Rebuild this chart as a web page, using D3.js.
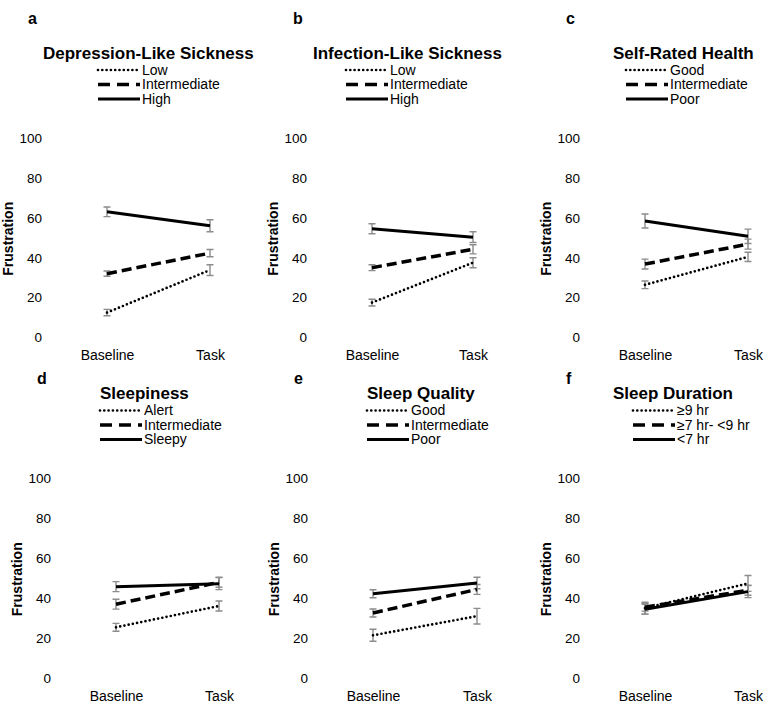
<!DOCTYPE html>
<html>
<head>
<meta charset="utf-8">
<script src="https://cdn.jsdelivr.net/npm/d3@7"></script>
<style>
    body { margin: 0; background: #ffffff; }
    svg { display: block; font-family: "Liberation Sans", Arial, sans-serif; }
</style>
</head>
<body>
<svg id="chart" width="766" height="705"></svg>
<script>
// conditions on the x axis, ticks on the y axis
const conditions = ["Baseline", "Task"];
const yTicks = [0, 20, 40, 60, 80, 100];

const panelLetters = ["a", "b", "c", "d", "e", "f"];
const panelTitles = [
    "Depression-Like Sickness",
    "Infection-Like Sickness",
    "Self-Rated Health",
    "Sleepiness",
    "Sleep Quality",
    "Sleep Duration"
];

// legend labels, order: dotted, dashed, solid
const levelLabels = [
    ["Low", "Intermediate", "High"],
    ["Low", "Intermediate", "High"],
    ["Good", "Intermediate", "Poor"],
    ["Alert", "Intermediate", "Sleepy"],
    ["Good", "Intermediate", "Poor"],
    ["\u22659 hr", "\u22657 hr- <9 hr", "<7 hr"]
];

// mean frustration [baseline, task] per level
const meanA = [[12.5, 33.8], [32, 42.3], [63, 56]];
const meanB = [[17.5, 37.5], [35, 44.2], [54.5, 50.3]];
const meanC = [[26.4, 40.4], [36.8, 46.8], [58.4, 50.7]];
const meanD = [[25.4, 36.1], [37, 48], [45.8, 47.3]];
const meanE = [[21.4, 31], [32.6, 44.4], [42.2, 47.6]];
const meanF = [[35, 47.4], [35.5, 44], [34.5, 43.3]];

// standard error [baseline, task] per level
const errA = [[1.6, 2.7], [1.3, 1.8], [2.4, 3]];
const errB = [[1.7, 2.5], [1.5, 2.3], [2.5, 2.7]];
const errC = [[1.9, 2.3], [2.5, 2.5], [3.5, 3.6]];
const errD = [[2, 2.5], [2.5, 2.5], [2.5, 3]];
const errE = [[3, 3.9], [2, 2.5], [2, 2.9]];
const errF = [[3, 4], [2, 2.5], [2.5, 3]];

const panelMeans = [meanA, meanB, meanC, meanD, meanE, meanF];
const panelErrs = [errA, errB, errC, errD, errE, errF];

// layout: baseline/task x, row offset, title and legend left edge (relative to baseline x)
const panelLayout = [
    {base: 107, task: 210, row: 0, titleDx: -64, legendDx: -9},
    {base: 372, task: 473, row: 0, titleDx: -59, legendDx: -26},
    {base: 645, task: 748, row: 0, titleDx: -32, legendDx: -19},
    {base: 116, task: 219, row: 1, titleDx: -16, legendDx: -16},
    {base: 373, task: 477, row: 1, titleDx: -6, legendDx: -6},
    {base: 645, task: 748, row: 1, titleDx: -32, legendDx: -12}
];

const ROW_SHIFT = 340.5;
const LETTER_Y = [18, 378];

const lineStyles = [
    {dash: "0,4.3", width: 2.7, cap: "round", legendDash: "0,4.3"},
    {dash: "10,5", width: 3.5, cap: "butt", legendDash: "12,7"},
    {dash: null, width: 3, cap: "butt", legendDash: null}
];

const ERR_COLOR = "#8c8c8c";
const CAP_HALF = 3.5;

let svg = d3.select("#chart");


function drawPanel(i) {
    const lay = panelLayout[i];
    const dy = lay.row * ROW_SHIFT;
    const g = svg.append("g").attr("class", "panel");

    let x = d3.scalePoint()
	.domain(conditions)
	.range([lay.base, lay.task]);

    let y = d3.scaleLinear()
	.domain([0, 100])
	.range([337.5 + dy, 138 + dy]);

    // y tick labels only, no axis line
    let yAxis = d3.axisLeft(y)
	.tickValues(yTicks)
	.tickSize(0)
	.tickPadding(0);

    let ya = g.append("g")
	.attr("transform", `translate(${lay.base - 65},0)`)
	.call(yAxis);
    ya.select(".domain").remove();
    ya.selectAll("text")
	.style("font-size", "13.5px")
	.style("font-family", "Liberation Sans, Arial, sans-serif")
	.attr("fill", "#000");

    // x labels
    let xAxis = d3.axisBottom(x)
	.tickSize(0)
	.tickPadding(0);

    let xa = g.append("g")
	.attr("transform", `translate(0,${y(0) + 13})`)
	.call(xAxis);
    xa.select(".domain").remove();
    xa.selectAll("text")
	.style("font-size", "14px")
	.style("font-family", "Liberation Sans, Arial, sans-serif")
	.attr("fill", "#000");

    g.append("text")
	.text("Frustration")
	.attr("transform", `translate(${[lay.base - 99, (y(0) + y(100)) / 2 + 1]}) rotate(270)`)
	.attr("text-anchor", "middle")
	.attr("dy", "0.35em")
	.style("font-size", "14px")
	.style("font-weight", "bold");

    g.append("text")
	.text(panelLetters[i])
	.attr("x", lay.base - 79)
	.attr("y", LETTER_Y[lay.row])
	.attr("dy", "0.35em")
	.style("font-size", "16px")
	.style("font-weight", "bold");

    g.append("text")
	.text(panelTitles[i])
	.attr("x", lay.base + lay.titleDx)
	.attr("y", 53 + dy)
	.attr("dy", "0.35em")
	.style("font-size", "17px")
	.style("font-weight", "bold");

    // legend
    const lx = lay.base + lay.legendDx;
    let leg = g.append("g");
    levelLabels[i].forEach(function(label, k) {
	const ly = 70 + k * 14.5 + dy;
	const st = lineStyles[k];
	leg.append("line")
	    .attr("x1", lx)
	    .attr("x2", lx + 42)
	    .attr("y1", ly)
	    .attr("y2", ly)
	    .attr("stroke", "#000")
	    .attr("stroke-width", st.width)
	    .attr("stroke-linecap", st.cap)
	    .attr("stroke-dasharray", st.legendDash);
	leg.append("text")
	    .text(label)
	    .attr("x", lx + 44)
	    .attr("y", ly)
	    .attr("dy", "0.35em")
	    .style("font-size", "14px");
    });

    // error bars
    const means = panelMeans[i];
    const errs = panelErrs[i];
    let bars = [];
    means.forEach(function(m, k) {
	conditions.forEach(function(c, j) {
	    bars.push({cond: c, mean: m[j], err: errs[k][j]});
	});
    });

    let eb = g.append("g").attr("class", "errbars");
    eb.selectAll("path")
	.data(bars)
	.join("path")
	.attr("d", function(d) {
	    const cx = x(d.cond);
	    const y1 = y(d.mean + d.err);
	    const y2 = y(d.mean - d.err);
	    return `M${cx - CAP_HALF},${y1}H${cx + CAP_HALF}M${cx},${y1}V${y2}M${cx - CAP_HALF},${y2}H${cx + CAP_HALF}`;
	})
	.attr("fill", "none")
	.attr("stroke", ERR_COLOR)
	.attr("stroke-width", 1.4);

    // lines
    let line = d3.line()
	.x(function(d, j) { return x(conditions[j]) })
	.y(function(d) { return y(d) });

    g.append("g").selectAll("path")
	.data(means)
	.join("path")
	.attr("d", line)
	.attr("fill", "none")
	.attr("stroke", "#000")
	.attr("stroke-width", function(d, k) { return lineStyles[k].width })
	.attr("stroke-linecap", function(d, k) { return lineStyles[k].cap })
	.attr("stroke-dasharray", function(d, k) { return lineStyles[k].dash });
}


panelTitles.forEach(function(t, i) {
    drawPanel(i);
});
</script>
</body>
</html>
